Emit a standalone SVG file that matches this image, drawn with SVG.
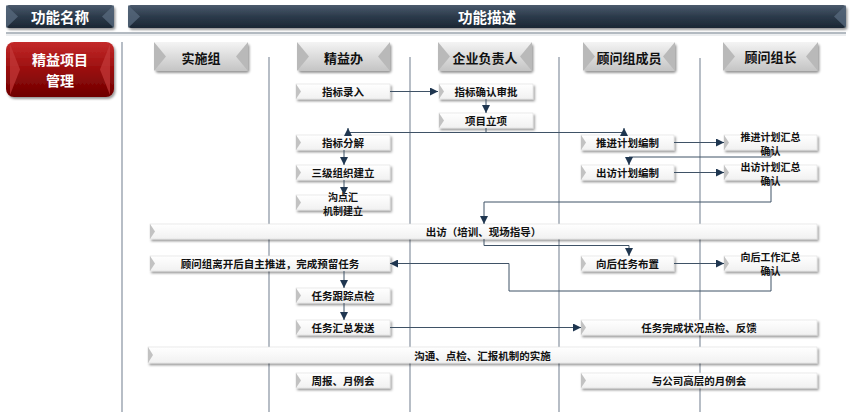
<svg xmlns="http://www.w3.org/2000/svg" width="850" height="417" viewBox="0 0 850 417">
<defs>
<linearGradient id="gNavy" x1="0" y1="0" x2="0" y2="1"><stop offset="0" stop-color="#4a5a6c"/><stop offset="0.5" stop-color="#2c3a4b"/><stop offset="1" stop-color="#1b2733"/></linearGradient>
<linearGradient id="gRed" x1="0" y1="0" x2="0" y2="1"><stop offset="0" stop-color="#c42a2a"/><stop offset="0.5" stop-color="#9a0e0e"/><stop offset="1" stop-color="#6e0000"/></linearGradient>
<linearGradient id="gGray" x1="0" y1="0" x2="0" y2="1"><stop offset="0" stop-color="#f4f4f4"/><stop offset="0.5" stop-color="#dcdcdc"/><stop offset="1" stop-color="#c4c4c4"/></linearGradient>
<linearGradient id="gBox" x1="0" y1="0" x2="0" y2="1"><stop offset="0" stop-color="#ffffff"/><stop offset="1" stop-color="#f1f1f1"/></linearGradient>
<filter id="sh" x="-10%" y="-30%" width="120%" height="170%"><feDropShadow dx="1.5" dy="2" stdDeviation="1.3" flood-color="#000" flood-opacity="0.4"/></filter>
<marker id="ar" viewBox="0 0 10 10" refX="10" refY="5" markerWidth="8" markerHeight="8" markerUnits="userSpaceOnUse" orient="auto"><path d="M0,0 L10,5 L0,10 z" fill="#1f3650"/></marker>
</defs>
<style>
.hd{font-family:"Noto Sans CJK SC","Liberation Sans",sans-serif;font-weight:bold;font-size:14.5px;fill:#fff;text-anchor:middle;dominant-baseline:central}
.hr{font-family:"Noto Sans CJK SC","Liberation Sans",sans-serif;font-weight:bold;font-size:14px;fill:#fff;text-anchor:middle;dominant-baseline:central}
.ch{font-family:"Noto Sans CJK SC","Liberation Sans",sans-serif;font-weight:bold;font-size:13px;fill:#111;text-anchor:middle;dominant-baseline:central}
.t{font-family:"Noto Sans CJK SC","Liberation Sans",sans-serif;font-weight:bold;font-size:10.5px;fill:#111;text-anchor:middle;dominant-baseline:central}
.t2{font-family:"Noto Sans CJK SC","Liberation Sans",sans-serif;font-weight:bold;font-size:10px;fill:#111;text-anchor:middle;dominant-baseline:central}
.box{fill:url(#gBox);stroke:#dedede;stroke-width:0.6;filter:url(#sh)}
.nt{fill:#c2c2c2}
.vl{stroke:#8792a0;stroke-width:1.2;fill:none}
.cn{stroke:#3f5266;stroke-width:1;fill:none}
.bev{fill:#56687c;opacity:0.8}
.gbev{fill:#b9b9b9}
.rbev{fill:#c53a3a;opacity:0.7}
</style>

<!-- header -->
<g id="hdr-name">
<rect x="6" y="5" width="108" height="23" rx="3" fill="url(#gNavy)" filter="url(#sh)"/>
<polygon class="bev" points="6,5 18,16.5 6,28"/>
<polygon class="bev" points="114,5 102,16.5 114,28"/>
<text class="hd" x="60" y="16.5">功能名称</text>
</g>
<g id="hdr-desc">
<rect x="128" y="5" width="718" height="23" rx="3" fill="url(#gNavy)" filter="url(#sh)"/>
<polygon class="bev" points="128,5 140,16.5 128,28"/>
<polygon class="bev" points="846,5 834,16.5 846,28"/>
<text class="hd" x="487" y="16.5">功能描述</text>
</g>
<line x1="6" y1="33" x2="846" y2="33" stroke="#9aa3ad" stroke-width="1.5"/>
<line x1="6" y1="35" x2="846" y2="35" stroke="#d8dce0" stroke-width="1"/>

<g id="func">
<rect x="6" y="42" width="108" height="55" rx="8" fill="url(#gRed)" filter="url(#sh)"/>
<polygon class="rbev" points="10,44 20,69.5 10,95"/>
<polygon class="rbev" points="110,44 100,69.5 110,95"/>
<text class="hr"><tspan x="60" y="59">精益项目</tspan><tspan x="60" y="80">管理</tspan></text>
</g>

<!-- lane lines -->
<g id="lanes">
<line class="vl" x1="122" y1="42" x2="122" y2="412"/>
<line class="vl" x1="269" y1="57" x2="269" y2="412"/>
<line class="vl" x1="410" y1="57" x2="410" y2="412"/>
<line class="vl" x1="559" y1="57" x2="559" y2="412"/>
<line class="vl" x1="700" y1="58" x2="700" y2="412"/>
</g>

<!-- column headers -->
<g id="col1"><rect x="154" y="42" width="94" height="29" rx="3" fill="url(#gGray)" filter="url(#sh)"/><polygon class="gbev" points="154,42 166,56.5 154,71"/><polygon class="gbev" points="248,42 236,56.5 248,71"/><text class="ch" x="201" y="57">实施组</text></g>
<g id="col2"><rect x="297" y="42" width="93" height="29" rx="3" fill="url(#gGray)" filter="url(#sh)"/><polygon class="gbev" points="297,42 309,56.5 297,71"/><polygon class="gbev" points="390,42 378,56.5 390,71"/><text class="ch" x="343.5" y="57">精益办</text></g>
<g id="col3"><rect x="438" y="42" width="94" height="29" rx="3" fill="url(#gGray)" filter="url(#sh)"/><polygon class="gbev" points="438,42 450,56.5 438,71"/><polygon class="gbev" points="532,42 520,56.5 532,71"/><text class="ch" x="485" y="57">企业负责人</text></g>
<g id="col4"><rect x="583" y="42" width="92" height="29" rx="3" fill="url(#gGray)" filter="url(#sh)"/><polygon class="gbev" points="583,42 595,56.5 583,71"/><polygon class="gbev" points="675,42 663,56.5 675,71"/><text class="ch" x="629" y="57">顾问组成员</text></g>
<g id="col5"><rect x="723" y="42" width="95" height="29" rx="3" fill="url(#gGray)" filter="url(#sh)"/><polygon class="gbev" points="723,42 735,56.5 723,71"/><polygon class="gbev" points="818,42 806,56.5 818,71"/><text class="ch" x="770.5" y="56">顾问组长</text></g>

<!-- process nodes -->
<g id="n1"><rect class="box" x="296" y="84" width="94" height="15"/><polygon class="nt" points="296,84 301,91.5 296,99"/><text class="t" x="343" y="91.5">指标录入</text></g>
<g id="n2"><rect class="box" x="439" y="84" width="94" height="15"/><polygon class="nt" points="439,84 444,91.5 439,99"/><text class="t" x="486" y="91.5">指标确认审批</text></g>
<g id="n3"><rect class="box" x="439" y="113" width="94" height="15"/><polygon class="nt" points="439,113 444,120.5 439,128"/><text class="t" x="486" y="120.5">项目立项</text></g>
<g id="n4"><rect class="box" x="296" y="135" width="94" height="15"/><polygon class="nt" points="296,135 301,142.5 296,150"/><text class="t" x="343" y="142.5">指标分解</text></g>
<g id="n5"><rect class="box" x="296" y="165" width="94" height="15"/><polygon class="nt" points="296,165 301,172.5 296,180"/><text class="t" x="343" y="172.5">三级组织建立</text></g>
<g id="n6"><rect class="box" x="296" y="195" width="94" height="15"/><polygon class="nt" points="296,195 301,202.5 296,210"/><text class="t2"><tspan x="343" y="195.5">沟点汇</tspan><tspan x="343" y="209.5">机制建立</tspan></text></g>
<g id="n7"><rect class="box" x="581" y="135" width="93" height="15"/><polygon class="nt" points="581,135 586,142.5 581,150"/><text class="t" x="627.5" y="142.5">推进计划编制</text></g>
<g id="n8"><rect class="box" x="724" y="135" width="93" height="15"/><polygon class="nt" points="724,135 729,142.5 724,150"/><text class="t2"><tspan x="770.5" y="136">推进计划汇总</tspan><tspan x="770.5" y="150">确认</tspan></text></g>
<g id="n9"><rect class="box" x="581" y="165" width="93" height="15"/><polygon class="nt" points="581,165 586,172.5 581,180"/><text class="t" x="627.5" y="172.5">出访计划编制</text></g>
<g id="n10"><rect class="box" x="724" y="165" width="93" height="15"/><polygon class="nt" points="724,165 729,172.5 724,180"/><text class="t2"><tspan x="770.5" y="166">出访计划汇总</tspan><tspan x="770.5" y="180">确认</tspan></text></g>
<g id="n11"><rect class="box" x="150" y="224" width="667" height="15"/><polygon class="nt" points="150,224 155,231.5 150,239"/><text class="t" x="483.5" y="231.5">出访（培训、现场指导）</text></g>
<g id="n12"><rect class="box" x="150" y="256" width="240" height="15"/><polygon class="nt" points="150,256 155,263.5 150,271"/><text class="t" x="270" y="263.5">顾问组离开后自主推进，完成预留任务</text></g>
<g id="n13"><rect class="box" x="581" y="256" width="93" height="15"/><polygon class="nt" points="581,256 586,263.5 581,271"/><text class="t" x="627.5" y="263.5">向后任务布置</text></g>
<g id="n14"><rect class="box" x="724" y="256" width="93" height="15"/><polygon class="nt" points="724,256 729,263.5 724,271"/><text class="t2"><tspan x="770.5" y="255.5">向后工作汇总</tspan><tspan x="770.5" y="269.5">确认</tspan></text></g>
<g id="n15"><rect class="box" x="296" y="288" width="94" height="15"/><polygon class="nt" points="296,288 301,295.5 296,303"/><text class="t" x="343" y="295.5">任务跟踪点检</text></g>
<g id="n16"><rect class="box" x="296" y="320" width="94" height="15"/><polygon class="nt" points="296,320 301,327.5 296,335"/><text class="t" x="343" y="327.5">任务汇总发送</text></g>
<g id="n17"><rect class="box" x="581" y="320" width="236" height="15"/><polygon class="nt" points="581,320 586,327.5 581,335"/><text class="t" x="699" y="327.5">任务完成状况点检、反馈</text></g>
<g id="n18"><rect class="box" x="148" y="347" width="669" height="16"/><polygon class="nt" points="148,347 153,355 148,363"/><text class="t" x="482.5" y="355">沟通、点检、汇报机制的实施</text></g>
<g id="n19"><rect class="box" x="296" y="373" width="94" height="15"/><polygon class="nt" points="296,373 301,380.5 296,388"/><text class="t" x="343" y="380.5">周报、月例会</text></g>
<g id="n20"><rect class="box" x="581" y="373" width="236" height="15"/><polygon class="nt" points="581,373 586,380.5 581,388"/><text class="t" x="699" y="380.5">与公司高层的月例会</text></g>

<!-- connectors -->
<g id="connectors">
<path class="cn" d="M390,91.5 H438" marker-end="url(#ar)"/>
<path class="cn" d="M486,99 V113" marker-end="url(#ar)"/>
<path class="cn" d="M486,128 V132.5"/>
<path class="cn" d="M348,132.5 H624"/>
<path class="cn" d="M348,135 V128" marker-end="url(#ar)"/>
<path class="cn" d="M624,135 V128" marker-end="url(#ar)"/>
<path class="cn" d="M344,150 V165" marker-end="url(#ar)"/>
<path class="cn" d="M344,180 V195" marker-end="url(#ar)"/>
<path class="cn" d="M674,142.5 H724" marker-end="url(#ar)"/>
<path class="cn" d="M771,150 V157 H629 V165" marker-end="url(#ar)"/>
<path class="cn" d="M674,172.5 H724" marker-end="url(#ar)"/>
<path class="cn" d="M771,180 V202 H484 V224" marker-end="url(#ar)"/>
<path class="cn" d="M484,239 V245.5 H629 V256" marker-end="url(#ar)"/>
<path class="cn" d="M674,263.5 H724" marker-end="url(#ar)"/>
<path class="cn" d="M771,271 V291 H509 V263.5 H390" marker-end="url(#ar)"/>
<path class="cn" d="M344,271 V288" marker-end="url(#ar)"/>
<path class="cn" d="M344,303 V320" marker-end="url(#ar)"/>
<path class="cn" d="M390,327.5 H581" marker-end="url(#ar)"/>
</g>
</svg>
